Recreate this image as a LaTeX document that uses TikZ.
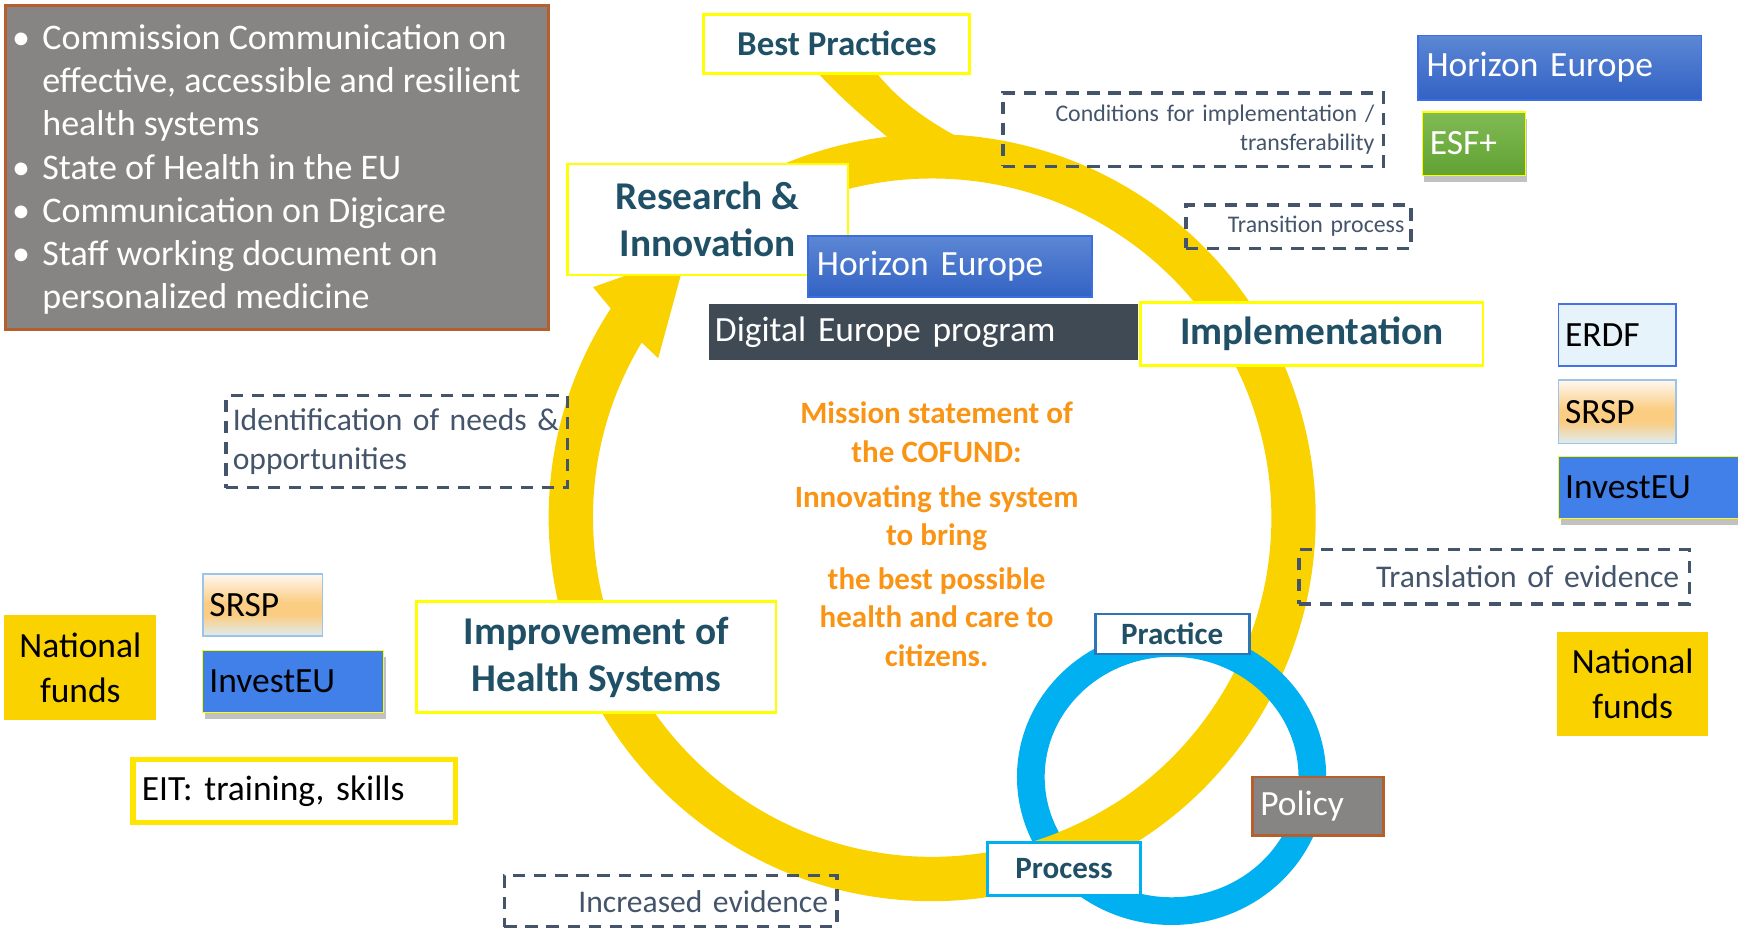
\documentclass[tikz,border=0pt]{standalone}
\usepackage{fontspec}
\setmainfont{Carlito}
\usetikzlibrary{shadows}
\definecolor{ringY}{RGB}{250,210,0}
\definecolor{boxY}{RGB}{255,255,0}
\definecolor{eitY}{RGB}{255,229,0}
\definecolor{tealC}{RGB}{31,80,102}
\definecolor{dashC}{RGB}{68,84,106}
\definecolor{orangeC}{RGB}{250,148,20}
\definecolor{grayF}{RGB}{135,133,131}
\definecolor{brownC}{RGB}{180,95,45}
\definecolor{investF}{RGB}{64,128,232}
\definecolor{horTop}{RGB}{92,135,212}
\definecolor{horBot}{RGB}{50,98,196}
\definecolor{horDraw}{RGB}{60,110,225}
\definecolor{digF}{RGB}{64,74,84}
\definecolor{esfTop}{RGB}{128,186,84}
\definecolor{esfBot}{RGB}{97,162,50}
\definecolor{cyanC}{RGB}{0,176,240}
\definecolor{pracC}{RGB}{46,117,182}
\definecolor{erdfF}{RGB}{230,243,251}
\definecolor{erdfD}{RGB}{68,114,230}
\definecolor{srspTop}{RGB}{254,247,240}
\definecolor{srspMid}{RGB}{251,205,130}
\definecolor{srspBot}{RGB}{222,236,242}
\definecolor{srspD}{RGB}{157,195,230}
\pgfdeclareverticalshading{srspshade}{100bp}{color(0bp)=(srspBot); color(25bp)=(srspBot); color(42bp)=(srspMid); color(52bp)=(srspMid); color(75bp)=(srspTop); color(100bp)=(srspTop)}
\newcommand{\fsz}[2]{\fontsize{#1}{#2}\selectfont}
\begin{document}
\begin{tikzpicture}[x=1pt,y=1pt,
  ybox/.style={draw=boxY, line width=2.5pt, fill=white, inner sep=0pt, text=tealC, font=\bfseries\fsz{35.5}{43}, align=center},
  dbox/.style={draw=dashC, line width=3pt, dash pattern=on 11pt off 8pt, text=dashC, inner ysep=0pt},
  lbox/.style={inner ysep=0pt, align=left, font=\fsz{32}{39}},
  hor/.style={lbox, draw=horDraw, line width=1.5pt, top color=horTop, bottom color=horBot, text=white},
  shad/.style={drop shadow={shadow xshift=2pt, shadow yshift=-6pt, opacity=.35, fill=black!70}},
  srsp/.style={lbox, draw=srspD, line width=1.5pt, shading=srspshade, text=black},
  invest/.style={lbox, draw=boxY, line width=1pt, fill=investF, text=black, shad},
  natf/.style={fill=ringY, inner sep=0pt, align=center, font=\fsz{32}{40}, text=black}
]
\useasboundingbox (0,0) rectangle (1568,-839);
\coordinate (yc) at (841,-467);

% Best practices branch
\fill[ringY] (738,-58) -- (738,-66) .. controls (762,-92) and (784,-110) .. (806,-128)
  -- (872,-128) .. controls (838,-110) and (812,-92) .. (791,-66) -- (791,-58) -- cycle;
% yellow ring
\draw[ringY, line width=40pt] ([shift={(146.5:326)}]yc) arc[start angle=146.5, end angle=475, radius=326];
% arrow head
\fill[ringY] ([shift={(146.9:347)}]yc) -- ([shift={(145.8:370)}]yc) -- ([shift={(133:325)}]yc)
  -- ([shift={(149.8:286)}]yc) -- ([shift={(148.8:309)}]yc) -- cycle;
% blue ring
\draw[cyanC, line width=25pt] (1057,-701) ellipse[x radius=127, y radius=121];
% yellow over blue at lower crossing
\draw[ringY, line width=40pt] ([shift={(-58:326)}]yc) arc[start angle=-58, end angle=-77, radius=326];

% grey box
\node[draw=brownC, line width=2.5pt, fill=grayF, minimum width=490, minimum height=292, inner sep=0pt] (gb) at (250,-151) {};
\node[anchor=north west, inner sep=0pt, align=left, text=white, font=\fsz{32.5}{39}] (gbt) at (38,-22)
 {\llap{\textbullet\hspace{11pt}}Commission Communication on\\
  effective, accessible and resilient\\
  health systems\\
  \llap{\textbullet\hspace{11pt}}State of Health in the EU\\
  \llap{\textbullet\hspace{11pt}}Communication on Digicare\\
  \llap{\textbullet\hspace{11pt}}Staff working document on\\
  personalized medicine};

% main yellow boxes
\node[ybox, minimum width=240, minimum height=53, font=\bfseries\fsz{31.5}{38}] (bp) at (755,-39.5) {Best Practices};
\node[ybox, minimum width=253, minimum height=100] (ri) at (638.5,-198) {Research \&\\Innovation};
\node[ybox, minimum width=324, minimum height=100] (imp) at (538,-593) {Improvement of\\Health Systems};

% programme boxes
\node[hor, text width=240, inner xsep=8pt, minimum height=55] (hec) at (857,-240.5) {\mbox{Horizon Europe}};
\node[lbox, fill=digF, text=white, text width=377, inner xsep=5pt, minimum height=51] (dig) at (833.5,-299.5) {\mbox{Digital Europe program}};
\node[ybox, minimum width=309, minimum height=57] (impl) at (1183.5,-301.5) {Implementation};

\node[hor, text width=240, inner xsep=8pt, minimum height=58] (her) at (1407,-61) {\mbox{Horizon Europe}};
\node[lbox, draw=boxY, line width=1pt, top color=esfTop, bottom color=esfBot, text=white, text width=79, inner xsep=7pt, minimum height=57, shad] (esf) at (1329.5,-129.5) {ESF+};
\node[lbox, draw=erdfD, line width=1.5pt, fill=erdfF, text=black, text width=94, inner xsep=6pt, minimum height=56] (erdf) at (1459,-302) {ERDF};
\node[srsp, text width=94, inner xsep=6pt, minimum height=57] (srspr) at (1459,-371.5) {SRSP};
\node[invest, text width=157, inner xsep=6pt, minimum height=56] (invr) at (1490.5,-440) {InvestEU};
\node[natf, minimum width=136, minimum height=94] (natr) at (1473,-617) {National\\funds};

\node[srsp, text width=96, inner xsep=6pt, minimum height=56] (srspl) at (237,-546) {SRSP};
\node[invest, text width=151, inner xsep=6pt, minimum height=56] (invl) at (264.5,-615) {InvestEU};
\node[natf, minimum width=137, minimum height=95] (natl) at (72.5,-602.5) {National\\funds};
\node[lbox, draw=eitY, line width=5pt, fill=white, text=black, text width=275, inner xsep=8pt, minimum height=57] (eit) at (265.5,-713.5) {\mbox{EIT: training, skills}};

% dashed boxes
\node[dbox, text width=327, inner xsep=8pt, minimum height=66, align=right, font=\fsz{21.5}{26}] (cond) at (1076.5,-117) {\mbox{Conditions for implementation /}\\\mbox{transferability}};
\node[dbox, text width=191, inner xsep=6pt, minimum height=39, align=right, font=\fsz{21.5}{26}] (trans) at (1171.5,-204.5) {\mbox{Transition process}};
\node[dbox, text width=296, inner xsep=6pt, minimum height=83, align=left, font=\fsz{28.5}{35}] (ident) at (358,-398.5) {\mbox{Identification of needs \&}\\\mbox{opportunities}};
\node[dbox, text width=334, inner xsep=9pt, minimum height=49, align=right, font=\fsz{28.5}{35}] (transl) at (1348,-520.5) {\mbox{Translation of evidence}};
\node[dbox, text width=284, inner xsep=8pt, minimum height=46, align=right, font=\fsz{28.5}{35}] (incr) at (605,-813) {\mbox{Increased evidence}};

% blue ring labels
\node[draw=pracC, line width=2.5pt, fill=white, minimum width=139, minimum height=36, inner sep=0pt, text=tealC, font=\bfseries\fsz{28}{34}] (prac) at (1057.5,-572) {Practice};
\node[draw=cyanC, line width=2.5pt, fill=white, minimum width=138, minimum height=48, inner sep=0pt, text=tealC, font=\bfseries\fsz{28}{34}] (proc) at (960,-784) {Process};
\node[lbox, draw=brownC, line width=2.5pt, fill=grayF, text=white, text width=104, inner xsep=7pt, minimum height=53] (pol) at (1189,-727.5) {Policy};

% mission statement
\node[align=center, text=orangeC, font=\bfseries\fsz{28}{34.5}, inner sep=0pt] (mis) at (845,-482)
 {Mission statement of\\the COFUND:\\[6.5pt]Innovating the system\\to bring\\[5pt]the best possible\\health and care to\\citizens.};
\end{tikzpicture}
\end{document}
